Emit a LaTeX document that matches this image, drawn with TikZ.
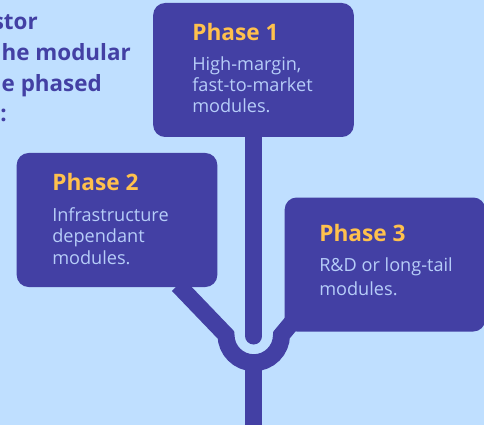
\documentclass[tikz,border=0pt]{standalone}
\usepackage{fontspec}
\setmainfont{Open Sans}
\definecolor{bg}{HTML}{BFDFFF}
\definecolor{ink}{HTML}{4340A4}
\definecolor{gold}{HTML}{FFC14D}
\definecolor{pale}{HTML}{B6CDF8}
\tikzset{
  box/.style={draw=none,fill=ink,rounded corners=9pt,minimum width=150.5pt,minimum height=100.5pt,inner sep=0pt},
  stem/.style={draw=ink,line width=12.75pt},
  ttl/.style={anchor=base west,inner sep=0pt,text=gold,font=\fontsize{17}{20}\selectfont\bfseries},
  bodytxt/.style={anchor=base west,inner sep=0pt,text=pale,align=left,font=\fontsize{13.6}{16}\selectfont},
  head/.style={anchor=base east,inner sep=0pt,text=ink,font=\fontsize{16.8}{20}\selectfont\bfseries}
}
\begin{document}
\begin{tikzpicture}[x=0.75pt,y=0.75pt]
\useasboundingbox (0,0) rectangle (484,425);
\fill[bg] (0,0) rectangle (484,425);
\begin{scope}
\clip (0,0) rectangle (484,425);
\node[head] (h1) at (38,425-30) {stor};
\node[head] (h2) at (131,425-61) {he modular};
\node[head] (h3) at (102,425-92) {e phased};
\node[head] (h4) at (7,425-122) {:};
\coordinate (ringL) at (226,90);
\coordinate (ringR) at (281.5,90);
\coordinate (ringB) at (253.75,62.5);
\coordinate (stemend) at (253.75,425-336);
\coordinate (foot) at (253.75,0);
\coordinate (d2) at (178,425-285);
\coordinate (d3) at (294,425-320);
\coordinate (s1) at (253.75,425-135);
\draw[stem,line cap=round] (s1) -- (stemend);
\draw[stem] (ringB) -- (foot);
\draw[stem] (d2) -- (ringL) arc[start angle=180,end angle=360,radius=27.75] -- (d3);
\node[box] (b1) at (253.5,425-70) {};
\node[box] (b2) at (117,425-220) {};
\node[box] (b3) at (385,425-264.5) {};
\node[ttl] (t1) at (192,425-41) {Phase 1};
\node[bodytxt] (p1) at (192,425-113) {High-margin,\\fast-to-market\\modules.};
\node[ttl] (t2) at (52,425-191) {Phase 2};
\node[bodytxt] (p2) at (52,425-264) {Infrastructure\\dependant\\modules.};
\node[ttl] (t3) at (319,425-241) {Phase 3};
\node[bodytxt] (p3) at (319,425-295.5) {R\&D or long-tail\\[2.2pt]modules.};
\end{scope}
\end{tikzpicture}
\end{document}
